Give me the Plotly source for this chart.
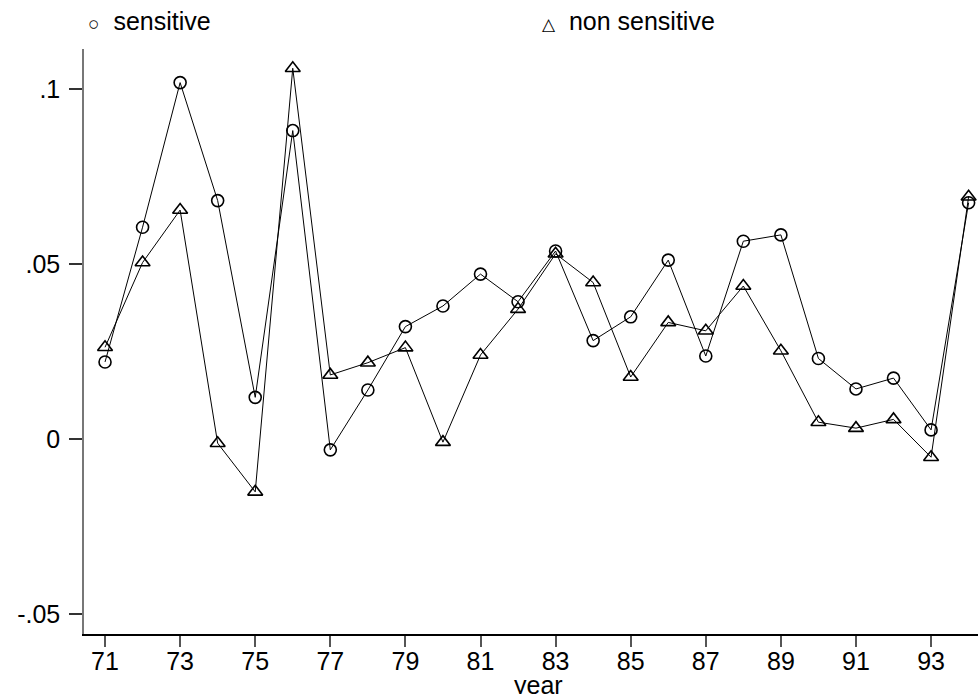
import plotly.graph_objects as go

years = list(range(71, 95))
sensitive = [0.0220, 0.0605, 0.1018, 0.0681, 0.0119, 0.0881, -0.0031, 0.0140,
             0.0321, 0.0380, 0.0471, 0.0392, 0.0537, 0.0281, 0.0349, 0.0511,
             0.0237, 0.0565, 0.0583, 0.0230, 0.0143, 0.0174, 0.0026, 0.0675]
non_sensitive = [0.0262, 0.0504, 0.0654, -0.0012, -0.0151, 0.1059, 0.0183, 0.0218,
                 0.0261, -0.0009, 0.0240, 0.0371, 0.0529, 0.0447, 0.0177, 0.0333,
                 0.0309, 0.0437, 0.0252, 0.0048, 0.0031, 0.0056, -0.0052, 0.0692]

x_tickvals = list(range(71, 95, 2))
x_ticktext = [str(v) for v in x_tickvals]
y_tickvals = [-0.05, 0, 0.05, 0.1]
y_ticktext = ["-.05", "0", ".05", ".1"]

FONT = "Liberation Sans, Arial, sans-serif"
FS = 25

fig = go.Figure()
fig.add_trace(go.Scatter(
    x=years, y=sensitive, mode="lines+markers", name="sensitive",
    line=dict(color="black", width=1),
    marker=dict(symbol="circle-open", size=12, color="black", line=dict(width=1.6, color="black")),
    showlegend=False,
))
fig.add_trace(go.Scatter(
    x=years, y=non_sensitive, mode="lines+markers", name="non sensitive",
    line=dict(color="black", width=1),
    marker=dict(symbol="triangle-up-open", size=13, color="black", line=dict(width=1.6, color="black")),
    showlegend=False,
))

fig.update_layout(
    width=978, height=694,
    margin=dict(l=84, r=0, t=49, b=60),
    paper_bgcolor="white", plot_bgcolor="white",
    font=dict(family=FONT, size=FS, color="black"),
    xaxis=dict(
        range=[70.44, 94.25], tickvals=x_tickvals, ticktext=x_ticktext,
        showgrid=False, zeroline=False, showline=True, linecolor="black", linewidth=1.5,
        ticks="outside", ticklen=11, tickwidth=1.5, tickcolor="#555",
        ticklabelstandoff=-7,
        tickfont=dict(family=FONT, size=FS, color="black"),
    ),
    yaxis=dict(
        range=[-0.0557, 0.1114], tickvals=y_tickvals, ticktext=y_ticktext,
        showgrid=False, zeroline=False, showline=True, linecolor="#777", linewidth=1.5,
        ticks="outside", ticklen=13, tickwidth=1.5, tickcolor="#333",
        ticklabelstandoff=4,
        tickfont=dict(family=FONT, size=FS, color="black"),
    ),
    annotations=[
        dict(text="year", xref="paper", yref="paper", x=0.508, y=-0.087,
             xanchor="center", yanchor="middle", showarrow=False,
             font=dict(family=FONT, size=FS, color="black")),
        dict(text="<span style='font-size:19px'>○</span>&nbsp; sensitive", xref="paper", yref="paper",
             x=(86 - 84) / 894, y=(634 - 21) / 585, xanchor="left", yanchor="middle",
             showarrow=False, font=dict(family=FONT, size=FS, color="black")),
        dict(text="<span style='font-size:17px'>△</span>&nbsp; non sensitive", xref="paper", yref="paper",
             x=(540 - 84) / 894, y=(634 - 21) / 585, xanchor="left", yanchor="middle",
             showarrow=False, font=dict(family=FONT, size=FS, color="black")),
    ],
)

fig.write_html("out.html", config={"displayModeBar": False},
               post_script="document.body.style.margin='0';document.body.style.overflow='hidden';")
